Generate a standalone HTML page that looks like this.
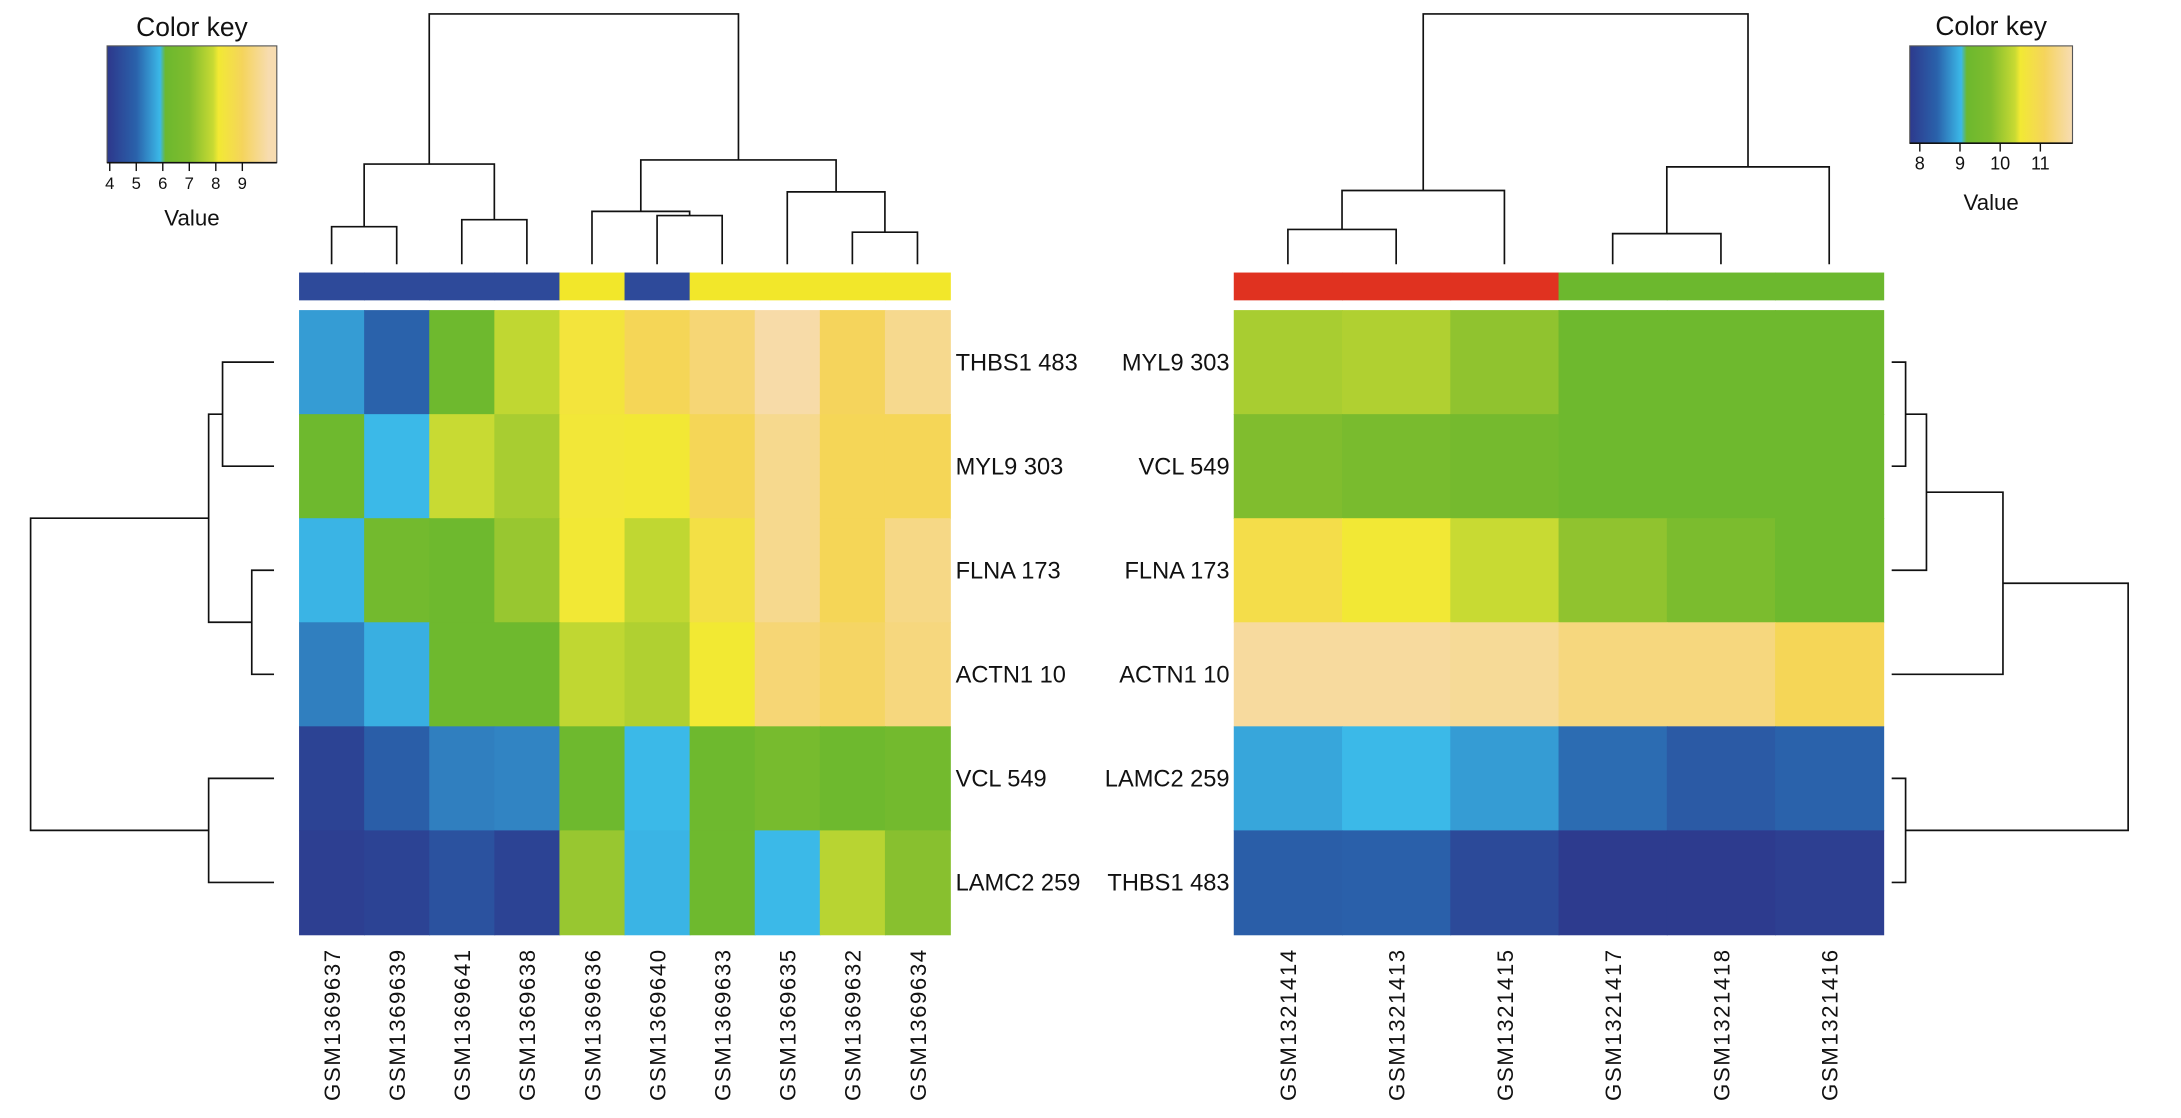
<!DOCTYPE html>
<html><head><meta charset="utf-8">
<style>
html,body{margin:0;padding:0;background:#fff;}
svg{display:block;font-family:"Liberation Sans",Arial,sans-serif;}
</style></head>
<body>
<svg id="chart" width="2181" height="1118" viewBox="0 0 1568 804" preserveAspectRatio="none" xmlns="http://www.w3.org/2000/svg">
<defs>
<linearGradient id="gradL" x1="0" x2="1" y1="0" y2="0"></linearGradient>
<linearGradient id="gradR" x1="0" x2="1" y1="0" y2="0"></linearGradient>
</defs>
<g id="root"></g>
</svg>
<script>
// ---- data ----
const leftRows = ["THBS1 483","MYL9 303","FLNA 173","ACTN1 10","VCL 549","LAMC2 259"];
const leftCols = ["GSM1369637","GSM1369639","GSM1369641","GSM1369638","GSM1369636","GSM1369640","GSM1369633","GSM1369635","GSM1369632","GSM1369634"];
const leftGroups = [0,0,0,0,1,0,1,1,1,1];
const leftThbs1 = [5.6,5.0,6.2,7.8,8.3,8.9,9.3,9.9,9.0,9.6];
const leftMyl9  = [6.2,5.9,7.9,7.5,8.2,8.15,8.9,9.6,8.9,8.9];
const leftFlna  = [5.85,6.4,6.2,7.3,8.15,7.8,8.5,9.6,8.9,9.5];
const leftActn1 = [5.3,5.8,6.2,6.2,7.8,7.6,8.1,9.3,9.1,9.4];
const leftVcl   = [4.2,4.9,5.3,5.35,6.2,5.9,6.2,6.6,6.2,6.4];
const leftLamc2 = [4.1,4.2,4.6,4.2,7.3,5.85,6.2,5.9,7.7,7.1];
const leftTicks = [4,5,6,7,8,9];

const rightRows = ["MYL9 303","VCL 549","FLNA 173","ACTN1 10","LAMC2 259","THBS1 483"];
const rightCols = ["GSM1321414","GSM1321413","GSM1321415","GSM1321417","GSM1321418","GSM1321416"];
const rightGroups = [0,0,0,1,1,1];
const rightMyl9  = [10.10,10.17,9.90,9.23,9.23,9.23];
const rightVcl   = [9.77,9.57,9.43,9.23,9.23,9.23];
const rightFlna  = [10.83,10.53,10.37,9.90,9.63,9.23];
const rightActn1 = [11.63,11.63,11.57,11.37,11.37,11.03];
const rightLamc2 = [8.90,9.03,8.83,8.50,8.30,8.43];
const rightThbs1 = [8.37,8.40,8.03,7.77,7.77,7.83];
const rightTicks = [8,9,10,11];

// dendrogram topologies: [left, right, height]; leaves are indices
const leftColTree = [[[0,1,163],[2,3,158],118],[[4,[5,6,155],152],[7,[8,9,167],138],115],10];
const leftRowTree = [[[0,1,160],[2,3,181],150],[4,5,150],22];
const rightColTree = [[[0,1,165],2,137],[[3,4,168],5,120],10];
const rightRowTree = [[[[0,1,1370],2,1385],3,1440],[4,5,1370],1530];

// colormap stops (value, color)
const leftStopVals = [4,5,5.9,6.1,7,7.9,8.1,9,10];
const rightStopVals = [7.77,8.43,9.03,9.17,9.77,10.37,10.5,11.1,11.77];
const stopColors = ["#2d3b8e","#2a62ab","#3bb9e8","#6cb82e","#80bd2e","#c8da33","#f2e933","#f5d45c","#f7dcb0"];

const NS="http://www.w3.org/2000/svg";
const root=document.getElementById('root');
function mk(tag,attrs,parent){const e=document.createElementNS(NS,tag);for(const k in attrs)e.setAttribute(k,attrs[k]);(parent||root).appendChild(e);return e;}
function hex2rgb(h){return [1,3,5].map(i=>parseInt(h.substr(i,2),16));}
function colorFor(v,vals){
  if(v<=vals[0])return stopColors[0];
  for(let i=1;i<vals.length;i++){if(v<=vals[i]){const t=(v-vals[i-1])/(vals[i]-vals[i-1]);const a=hex2rgb(stopColors[i-1]),b=hex2rgb(stopColors[i]);return 'rgb('+a.map((x,j)=>Math.round(x+(b[j]-x)*t)).join(',')+')';}}
  return stopColors[stopColors.length-1];
}

function drawHeatmap(name,rows,cols,matrix,groups,groupColors,x0,x1,y0,y1,stopVals,labelSide){
  const g=mk('g',{});
  
  
  const cw=(x1-x0)/cols.length, rh=(y1-y0)/rows.length;
  matrix.forEach((row,r)=>row.forEach((v,c)=>{
    const rc=mk('rect',{x:x0+c*cw,y:y0+r*rh,width:cw+0.6,height:rh+0.6,fill:colorFor(v,stopVals)},g);
    
    
  }));
  groups.forEach((gi,c)=>{
    const rc=mk('rect',{x:x0+c*cw,y:196,width:cw+0.6,height:20,fill:groupColors[gi]},g);
    
    
  });
  rows.forEach((lab,r)=>{
    const t=mk('text',{x:labelSide==='right'?x1+4:x0-3,y:y0+(r+0.5)*rh+6,'font-size':17,'text-anchor':labelSide==='right'?'start':'end',fill:'#111'},g);
    t.textContent=lab;
    
    
  });
  cols.forEach((lab,c)=>{
    const cx=x0+(c+0.5)*cw+6, cy=682;
    const t=mk('text',{x:cx,y:cy,'font-size':16,'letter-spacing':1.1,'text-anchor':'end',transform:'rotate(-90 '+cx+' '+cy+')',fill:'#111'},g);
    t.textContent=lab;
    
    
  });
  return {cw,rh};
}

function drawColDendro(name,tree,leafX,leafY){
  const g=mk('g',{stroke:'#111','stroke-width':1.2,fill:'none'});
  
  
  function rec(n){
    if(typeof n==='number')return {x:leafX(n),y:leafY};
    const a=rec(n[0]),b=rec(n[1]),h=n[2];
    mk('path',{d:'M'+a.x+' '+a.y+'V'+h+'H'+b.x+'V'+b.y},g);
    return {x:(a.x+b.x)/2,y:h};
  }
  rec(tree);
}
function drawRowDendro(name,tree,leafY,leafX){
  const g=mk('g',{stroke:'#111','stroke-width':1.2,fill:'none'});
  
  
  function rec(n){
    if(typeof n==='number')return {x:leafX,y:leafY(n)};
    const a=rec(n[0]),b=rec(n[1]),h=n[2];
    mk('path',{d:'M'+a.x+' '+a.y+'H'+h+'V'+b.y+'H'+b.x},g);
    return {x:h,y:(a.y+b.y)/2};
  }
  rec(tree);
}

function drawKey(name,gradId,stopVals,ticks,bx0,bx1,by0,by1,vmin,vmax,titleY,valueY,tickFont){
  const g=mk('g',{});
  
  
  const grad=document.getElementById(gradId);
  stopVals.forEach((v,i)=>{mk('stop',{offset:((v-vmin)/(vmax-vmin)).toFixed(4),'stop-color':stopColors[i]},grad);});
  const cx=(bx0+bx1)/2;
  const t1=mk('text',{x:cx,y:titleY,'font-size':19,'text-anchor':'middle',fill:'#111'},g);t1.textContent='Color key';
  
  const r=mk('rect',{x:bx0,y:by0,width:bx1-bx0,height:by1-by0,fill:'url(#'+gradId+')',stroke:'#555','stroke-width':0.8},g);
  
  mk('line',{x1:bx0,x2:bx1,y1:by1,y2:by1,stroke:'#111','stroke-width':1.2},g);
  const sx=v=>bx0+(v-vmin)/(vmax-vmin)*(bx1-bx0);
  ticks.forEach(v=>{
    mk('line',{x1:sx(v),x2:sx(v),y1:by1,y2:by1+6,stroke:'#111','stroke-width':1},g);
    const t=mk('text',{x:sx(v),y:by1+19,'font-size':tickFont,'text-anchor':'middle',fill:'#111'},g);
    t.textContent=v;
    
  });
  const t2=mk('text',{x:cx,y:valueY,'font-size':16,'text-anchor':'middle',fill:'#111'},g);t2.textContent='Value';
  
}

// ---- left panel ----
const LX0=215,LX1=683,HY0=223,HY1=672;
const L=drawHeatmap('left-heatmap',leftRows,leftCols,[leftThbs1,leftMyl9,leftFlna,leftActn1,leftVcl,leftLamc2],leftGroups,['#2e4a9a','#f2e72a'],LX0,LX1,HY0,HY1,leftStopVals,'right');
drawColDendro('left-column-dendrogram',leftColTree,i=>LX0+(i+0.5)*L.cw,190);
drawRowDendro('left-row-dendrogram',leftRowTree,i=>HY0+(i+0.5)*L.rh,197);
drawKey('left-color-key','gradL',leftStopVals,leftTicks,77,199,33,117,3.9,10.3,26,162,12);

// ---- right panel ----
const RX0=887,RX1=1354;
const R=drawHeatmap('right-heatmap',rightRows,rightCols,[rightMyl9,rightVcl,rightFlna,rightActn1,rightLamc2,rightThbs1],rightGroups,['#e03220','#6cb82e'],RX0,RX1,HY0,HY1,rightStopVals,'left');
drawColDendro('right-column-dendrogram',rightColTree,i=>RX0+(i+0.5)*R.cw,190);
drawRowDendro('right-row-dendrogram',rightRowTree,i=>HY0+(i+0.5)*R.rh,1360);
drawKey('right-color-key','gradR',rightStopVals,rightTicks,1373,1490,33,103,7.75,11.8,25,151,13);
</script>
</body></html>
